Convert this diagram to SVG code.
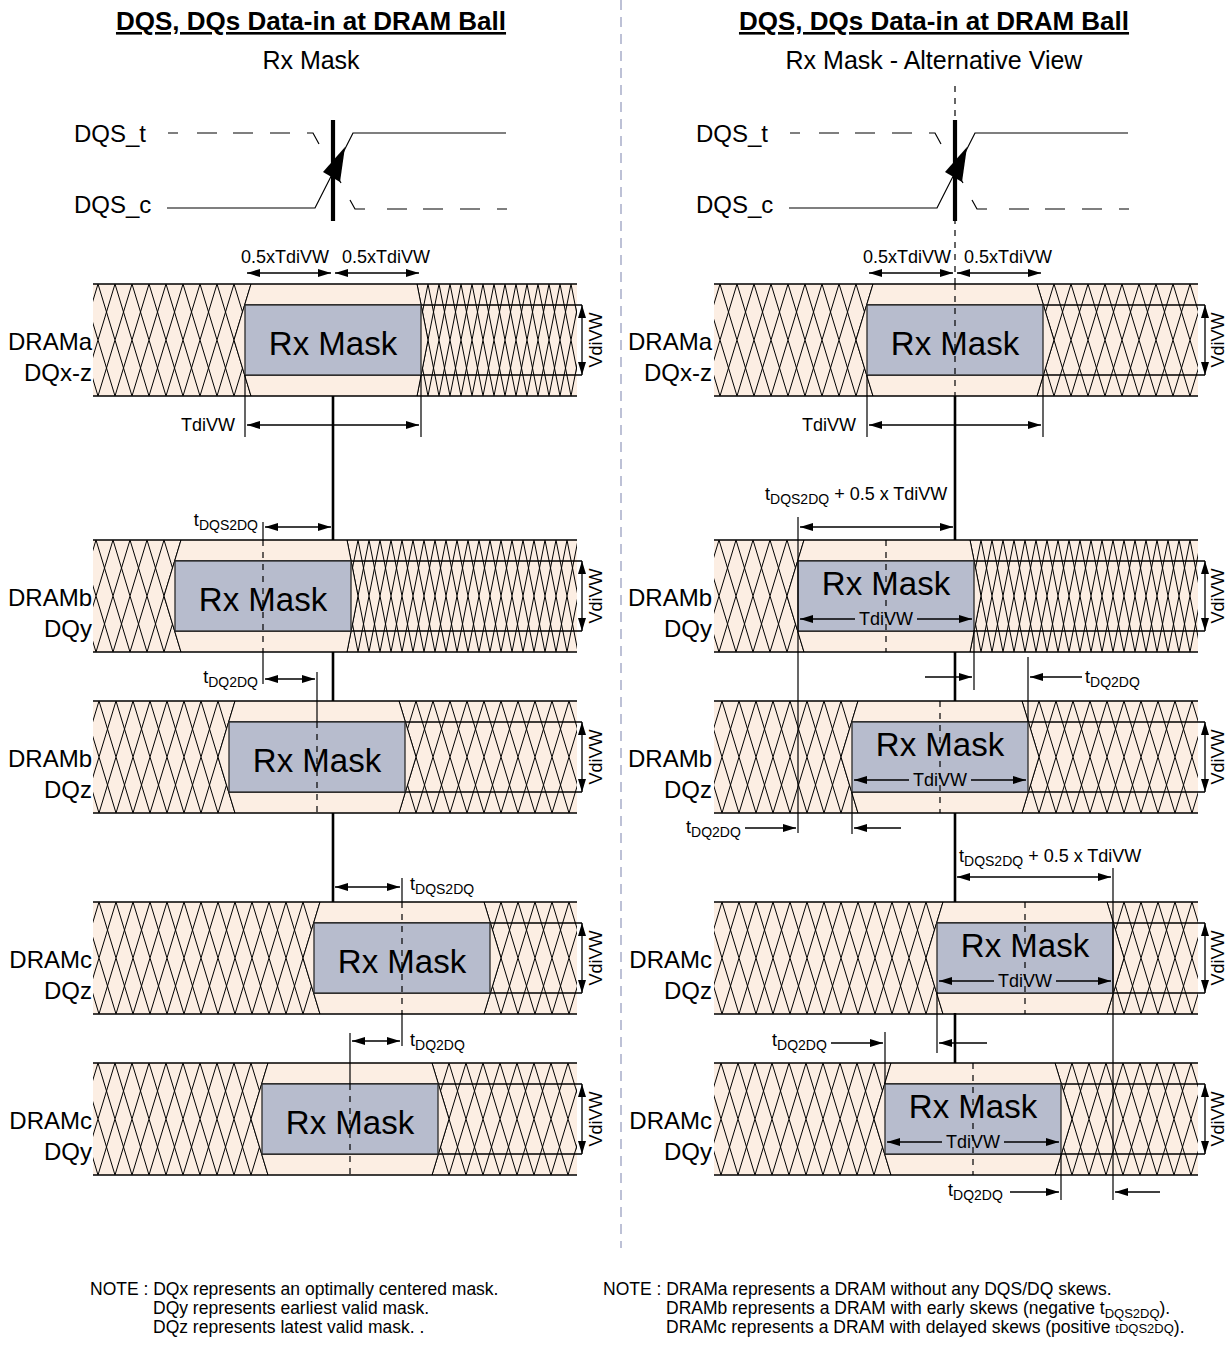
<svg xmlns="http://www.w3.org/2000/svg" width="1232" height="1345" viewBox="0 0 1232 1345">
<defs>
<style>
text{font-family:"Liberation Sans",Arial,Helvetica,sans-serif;fill:#000}
.title{font-size:26px;font-weight:bold;text-decoration:underline;text-anchor:middle}
.sub{font-size:25px;text-anchor:middle}
.lbl{font-size:24px}
.end{text-anchor:end}
.mid{text-anchor:middle}
.sm{font-size:18px}
.sb{font-size:14px}
.rx{font-size:33px;text-anchor:middle}
.note{font-size:17.5px}
.nsb{font-size:13px}
.band{fill:#FCEEE3}
.edge{stroke:#000;stroke-width:1.3;fill:none}
.mask{fill:#B7BCCD;stroke:#2a2a2a;stroke-width:1.3}
.thin{stroke:#000;stroke-width:1.2;fill:none}
.thick{stroke:#000;stroke-width:2.6;fill:none}
.bar{stroke:#000;stroke-width:4.2;fill:none}
.dsh{stroke:#000;stroke-width:1.2;stroke-dasharray:6 6;fill:none}
.hb{stroke:#000;stroke-width:1;fill:none}
.ar{stroke:#000;stroke-width:1.3;fill:none;marker-start:url(#ah);marker-end:url(#ah)}
.ae{stroke:#000;stroke-width:1.3;fill:none;marker-end:url(#ah)}
.hs{fill:url(#ps)}
.hd{fill:url(#pd)}
.div{stroke:#BDC1D6;stroke-width:2;stroke-dasharray:10 7;fill:none}
</style>
<marker id="ah" viewBox="0 0 13 8" refX="13" refY="4" markerWidth="13" markerHeight="8" markerUnits="userSpaceOnUse" orient="auto-start-reverse"><path d="M0,0 L13,4 L0,8 Z" fill="#000"/></marker>
<pattern id="ps" x="0" y="0" width="17" height="112" patternUnits="userSpaceOnUse"><path d="M0,112 L17,56 M0,56 L17,0 M0,0 L17,56 M0,56 L17,112" stroke="#000" stroke-width="1" fill="none"/></pattern>
<pattern id="pd" x="0" y="0" width="11" height="112" patternUnits="userSpaceOnUse"><path d="M0,112 L11,56 M0,56 L11,0 M0,0 L11,56 M0,56 L11,112" stroke="#000" stroke-width="1" fill="none"/></pattern>
</defs>
<rect width="1232" height="1345" fill="#fff"/>

<path class="div" d="M621,0V1248"/>

<g id="titles">
<text class="title" x="311" y="30">DQS, DQs Data-in at DRAM Ball</text>
<text class="sub" x="311" y="69">Rx Mask</text>
<text class="title" x="934" y="30">DQS, DQs Data-in at DRAM Ball</text>
<text class="sub" x="934" y="69">Rx Mask - Alternative View</text>
</g>

<g id="L-DQS">
<text class="lbl" x="74" y="142">DQS_t</text>
<text class="lbl" x="74" y="213">DQS_c</text>
<path class="thin" d="M168,133H178M197,133H217M233,133H253M270,133H290M307,133H313L319,144M337,176L341,183M350,200L355,209H365M387,209H407M423,209H443M460,209H480M497,209H507"/>
<path class="thin" d="M167,208H315L353,133H506"/>
<path class="bar" d="M333,120V221"/>
<polygon points="345,147 323,172 340,182" fill="#000"/>
</g>

<g id="R-DQS">
<text class="lbl" x="696" y="142">DQS_t</text>
<text class="lbl" x="696" y="213">DQS_c</text>
<path class="dsh" d="M955,86V284"/>
<path class="thin" d="M790,133H800M819,133H839M855,133H875M892,133H912M929,133H935L941,144M959,176L963,183M972,200L977,209H987M1009,209H1029M1045,209H1065M1082,209H1102M1119,209H1129"/>
<path class="thin" d="M789,208H937L975,133H1128"/>
<path class="bar" d="M955,120V221"/>
<polygon points="967,147 945,172 962,182" fill="#000"/>
</g>

<!-- LEFT PANEL BANDS -->
<g id="L-DRAMa-DQxz" transform="translate(0,284)">
<rect class="band" x="93" y="0" width="484" height="112"/>
<g transform="translate(251,0)"><path class="hs" d="M-158,0H0L-17,56L0,112H-158Z"/><path class="hb" d="M0,0L-17,56L0,112"/></g>
<g transform="translate(417,0)"><path class="hd" d="M0,0H160V112H0L11,56Z"/><path class="hb" d="M0,0L11,56L0,112"/></g>
<path class="edge" d="M93,0H577M93,112H577M245,21H582M245,91H582"/>
<rect class="mask" x="245" y="21" width="176" height="70"/>
<line class="ar" x1="582" y1="21" x2="582" y2="91"/>
<text class="sm mid" transform="translate(596,56) rotate(-90)" y="6">VdiVW</text>
<text class="rx" x="333" y="71">Rx Mask</text>
<text class="lbl end" x="92" y="66">DRAMa</text>
<text class="lbl end" x="92" y="97">DQx-z</text>
</g>

<g id="L-DRAMb-DQy" transform="translate(0,540)">
<rect class="band" x="93" y="0" width="484" height="112"/>
<g transform="translate(181,0)"><path class="hs" d="M-88,0H0L-17,56L0,112H-88Z"/><path class="hb" d="M0,0L-17,56L0,112"/></g>
<g transform="translate(347,0)"><path class="hd" d="M0,0H230V112H0L11,56Z"/><path class="hb" d="M0,0L11,56L0,112"/></g>
<path class="edge" d="M93,0H577M93,112H577M175,21H582M175,91H582"/>
<rect class="mask" x="175" y="21" width="176" height="70"/>
<path class="dsh" d="M263,0V112"/>
<line class="ar" x1="582" y1="21" x2="582" y2="91"/>
<text class="sm mid" transform="translate(596,56) rotate(-90)" y="6">VdiVW</text>
<text class="rx" x="263" y="71">Rx Mask</text>
<text class="lbl end" x="92" y="66">DRAMb</text>
<text class="lbl end" x="92" y="97">DQy</text>
</g>

<g id="L-DRAMb-DQz" transform="translate(0,701)">
<rect class="band" x="93" y="0" width="484" height="112"/>
<g transform="translate(235,0)"><path class="hs" d="M-142,0H0L-17,56L0,112H-142Z"/><path class="hb" d="M0,0L-17,56L0,112"/></g>
<g transform="translate(399,0)"><path class="hs" d="M0,0H178V112H0L17,56Z"/><path class="hb" d="M0,0L17,56L0,112"/></g>
<path class="edge" d="M93,0H577M93,112H577M229,21H582M229,91H582"/>
<rect class="mask" x="229" y="21" width="176" height="70"/>
<path class="dsh" d="M317,21V112"/>
<line class="ar" x1="582" y1="21" x2="582" y2="91"/>
<text class="sm mid" transform="translate(596,56) rotate(-90)" y="6">VdiVW</text>
<text class="rx" x="317" y="71">Rx Mask</text>
<text class="lbl end" x="92" y="66">DRAMb</text>
<text class="lbl end" x="92" y="97">DQz</text>
</g>

<g id="L-DRAMc-DQz" transform="translate(0,902)">
<rect class="band" x="93" y="0" width="484" height="112"/>
<g transform="translate(320,0)"><path class="hs" d="M-227,0H0L-17,56L0,112H-227Z"/><path class="hb" d="M0,0L-17,56L0,112"/></g>
<g transform="translate(484,0)"><path class="hs" d="M0,0H93V112H0L17,56Z"/><path class="hb" d="M0,0L17,56L0,112"/></g>
<path class="edge" d="M93,0H577M93,112H577M314,21H582M314,91H582"/>
<rect class="mask" x="314" y="21" width="176" height="70"/>
<path class="dsh" d="M402,0V112"/>
<line class="ar" x1="582" y1="21" x2="582" y2="91"/>
<text class="sm mid" transform="translate(596,56) rotate(-90)" y="6">VdiVW</text>
<text class="rx" x="402" y="71">Rx Mask</text>
<text class="lbl end" x="92" y="66">DRAMc</text>
<text class="lbl end" x="92" y="97">DQz</text>
</g>

<g id="L-DRAMc-DQy" transform="translate(0,1063)">
<rect class="band" x="93" y="0" width="484" height="112"/>
<g transform="translate(268,0)"><path class="hs" d="M-175,0H0L-17,56L0,112H-175Z"/><path class="hb" d="M0,0L-17,56L0,112"/></g>
<g transform="translate(432,0)"><path class="hs" d="M0,0H145V112H0L17,56Z"/><path class="hb" d="M0,0L17,56L0,112"/></g>
<path class="edge" d="M93,0H577M93,112H577M262,21H582M262,91H582"/>
<rect class="mask" x="262" y="21" width="176" height="70"/>
<path class="dsh" d="M350,21V112"/>
<line class="ar" x1="582" y1="21" x2="582" y2="91"/>
<text class="sm mid" transform="translate(596,56) rotate(-90)" y="6">VdiVW</text>
<text class="rx" x="350" y="71">Rx Mask</text>
<text class="lbl end" x="92" y="66">DRAMc</text>
<text class="lbl end" x="92" y="97">DQy</text>
</g>

<!-- RIGHT PANEL BANDS -->
<g id="R-DRAMa-DQxz" transform="translate(0,284)">
<rect class="band" x="714" y="0" width="484" height="112"/>
<g transform="translate(873,0)"><path class="hs" d="M-159,0H0L-17,56L0,112H-159Z"/><path class="hb" d="M0,0L-17,56L0,112"/></g>
<g transform="translate(1037,0)"><path class="hs" d="M0,0H161V112H0L17,56Z"/><path class="hb" d="M0,0L17,56L0,112"/></g>
<path class="edge" d="M714,0H1198M714,112H1198M867,21H1205M867,91H1205"/>
<rect class="mask" x="867" y="21" width="176" height="70"/>
<path class="dsh" d="M955,0V112"/>
<line class="ar" x1="1205" y1="21" x2="1205" y2="91"/>
<text class="sm mid" transform="translate(1218,56) rotate(-90)" y="6">VdiVW</text>
<text class="rx" x="955" y="71">Rx Mask</text>
<text class="lbl end" x="712" y="66">DRAMa</text>
<text class="lbl end" x="712" y="97">DQx-z</text>
</g>

<g id="R-DRAMb-DQy" transform="translate(0,540)">
<rect class="band" x="714" y="0" width="484" height="112"/>
<g transform="translate(804,0)"><path class="hs" d="M-90,0H0L-17,56L0,112H-90Z"/><path class="hb" d="M0,0L-17,56L0,112"/></g>
<g transform="translate(970,0)"><path class="hd" d="M0,0H228V112H0L11,56Z"/><path class="hb" d="M0,0L11,56L0,112"/></g>
<path class="edge" d="M714,0H1198M714,112H1198M798,21H1205M798,91H1205"/>
<rect class="mask" x="798" y="21" width="176" height="70"/>
<path class="dsh" d="M886,0V112"/>
<line class="ar" x1="1205" y1="21" x2="1205" y2="91"/>
<text class="sm mid" transform="translate(1218,56) rotate(-90)" y="6">VdiVW</text>
<text class="rx" x="886" y="55">Rx Mask</text>
<path class="ae" d="M855,79H800"/><path class="ae" d="M917,79H972"/>
<text class="sm mid" x="886" y="85">TdiVW</text>
<text class="lbl end" x="712" y="66">DRAMb</text>
<text class="lbl end" x="712" y="97">DQy</text>
</g>

<g id="R-DRAMb-DQz" transform="translate(0,701)">
<rect class="band" x="714" y="0" width="484" height="112"/>
<g transform="translate(858,0)"><path class="hs" d="M-144,0H0L-17,56L0,112H-144Z"/><path class="hb" d="M0,0L-17,56L0,112"/></g>
<g transform="translate(1022,0)"><path class="hs" d="M0,0H176V112H0L17,56Z"/><path class="hb" d="M0,0L17,56L0,112"/></g>
<path class="edge" d="M714,0H1198M714,112H1198M852,21H1205M852,91H1205"/>
<rect class="mask" x="852" y="21" width="176" height="70"/>
<path class="dsh" d="M940,0V112"/>
<line class="ar" x1="1205" y1="21" x2="1205" y2="91"/>
<text class="sm mid" transform="translate(1218,56) rotate(-90)" y="6">VdiVW</text>
<text class="rx" x="940" y="55">Rx Mask</text>
<path class="ae" d="M909,79H854"/><path class="ae" d="M971,79H1026"/>
<text class="sm mid" x="940" y="85">TdiVW</text>
<text class="lbl end" x="712" y="66">DRAMb</text>
<text class="lbl end" x="712" y="97">DQz</text>
</g>

<g id="R-DRAMc-DQz" transform="translate(0,902)">
<rect class="band" x="714" y="0" width="484" height="112"/>
<g transform="translate(943,0)"><path class="hs" d="M-229,0H0L-17,56L0,112H-229Z"/><path class="hb" d="M0,0L-17,56L0,112"/></g>
<g transform="translate(1107,0)"><path class="hs" d="M0,0H91V112H0L17,56Z"/><path class="hb" d="M0,0L17,56L0,112"/></g>
<path class="edge" d="M714,0H1198M714,112H1198M937,21H1205M937,91H1205"/>
<rect class="mask" x="937" y="21" width="176" height="70"/>
<path class="dsh" d="M1025,0V112"/>
<line class="ar" x1="1205" y1="21" x2="1205" y2="91"/>
<text class="sm mid" transform="translate(1218,56) rotate(-90)" y="6">VdiVW</text>
<text class="rx" x="1025" y="55">Rx Mask</text>
<path class="ae" d="M994,79H939"/><path class="ae" d="M1056,79H1111"/>
<text class="sm mid" x="1025" y="85">TdiVW</text>
<text class="lbl end" x="712" y="66">DRAMc</text>
<text class="lbl end" x="712" y="97">DQz</text>
</g>

<g id="R-DRAMc-DQy" transform="translate(0,1063)">
<rect class="band" x="714" y="0" width="484" height="112"/>
<g transform="translate(891,0)"><path class="hs" d="M-177,0H0L-17,56L0,112H-177Z"/><path class="hb" d="M0,0L-17,56L0,112"/></g>
<g transform="translate(1055,0)"><path class="hs" d="M0,0H143V112H0L17,56Z"/><path class="hb" d="M0,0L17,56L0,112"/></g>
<path class="edge" d="M714,0H1198M714,112H1198M885,21H1205M885,91H1205"/>
<rect class="mask" x="885" y="21" width="176" height="70"/>
<path class="dsh" d="M973,0V112"/>
<line class="ar" x1="1205" y1="21" x2="1205" y2="91"/>
<text class="sm mid" transform="translate(1218,56) rotate(-90)" y="6">VdiVW</text>
<text class="rx" x="973" y="55">Rx Mask</text>
<path class="ae" d="M942,79H887"/><path class="ae" d="M1004,79H1059"/>
<text class="sm mid" x="973" y="85">TdiVW</text>
<text class="lbl end" x="712" y="66">DRAMc</text>
<text class="lbl end" x="712" y="97">DQy</text>
</g>

<g id="connectors">
<path class="thick" d="M333,396V540M333,652V701M333,813V902"/>
<line class="ar" x1="247" y1="273" x2="331" y2="273"/>
<line class="ar" x1="335" y1="273" x2="419" y2="273"/>
<path class="thin" d="M245,375V437M421,375V437"/>
<line class="ar" x1="247" y1="425" x2="419" y2="425"/>
<path class="thin" d="M263,522V540M263,652V684"/>
<line class="ar" x1="265" y1="527" x2="331" y2="527"/>
<path class="thin" d="M317,672V722"/>
<line class="ar" x1="265" y1="679" x2="315" y2="679"/>
<path class="thin" d="M402,878V902M402,1013V1046"/>
<line class="ar" x1="335" y1="887" x2="400" y2="887"/>
<path class="thin" d="M350,1033V1084"/>
<line class="ar" x1="352" y1="1041" x2="400" y2="1041"/>
<path class="thick" d="M955,396V540M955,652V701M955,813V902M955,1013V1063"/>
<line class="ar" x1="869" y1="273" x2="953" y2="273"/>
<line class="ar" x1="957" y1="273" x2="1041" y2="273"/>
<path class="thin" d="M867,375V437M1043,375V437"/>
<line class="ar" x1="869" y1="425" x2="1041" y2="425"/>
<path class="thin" d="M798,517V833"/>
<line class="ar" x1="800" y1="527" x2="953" y2="527"/>
<path class="thin" d="M974,630V690M1028,657V722"/>
<path class="ae" d="M925,677H972"/>
<path class="ae" d="M1082,677H1030"/>
<path class="ae" d="M745,828H796"/>
<path class="thin" d="M852,792V834"/>
<path class="ae" d="M901,828H854"/>
<line class="ar" x1="957" y1="877" x2="1111" y2="877"/>
<path class="thin" d="M1113,868V1200"/>
<path class="ae" d="M831,1043H883"/>
<path class="thin" d="M885,1032V1084M937,992V1053"/>
<path class="ae" d="M987,1043H939"/>
<path class="thin" d="M1061,1153V1200"/>
<path class="ae" d="M1010,1192H1059"/>
<path class="ae" d="M1160,1192H1115"/>
</g>

<g id="labels">
<text class="sm mid" x="285" y="263">0.5xTdiVW</text>
<text class="sm mid" x="386" y="263">0.5xTdiVW</text>
<text class="sm end" x="235" y="431">TdiVW</text>
<text class="sm end" x="258" y="526">t<tspan class="sb" dy="4">DQS2DQ</tspan></text>
<text class="sm end" x="258" y="683">t<tspan class="sb" dy="4">DQ2DQ</tspan></text>
<text class="sm" x="410" y="890">t<tspan class="sb" dy="4">DQS2DQ</tspan></text>
<text class="sm" x="410" y="1046">t<tspan class="sb" dy="4">DQ2DQ</tspan></text>
<text class="sm mid" x="907" y="263">0.5xTdiVW</text>
<text class="sm mid" x="1008" y="263">0.5xTdiVW</text>
<text class="sm end" x="856" y="431">TdiVW</text>
<text class="sm" x="765" y="500">t<tspan class="sb" dy="4">DQS2DQ</tspan><tspan dy="-4"> + 0.5 x TdiVW</tspan></text>
<text class="sm" x="1085" y="683">t<tspan class="sb" dy="4">DQ2DQ</tspan></text>
<text class="sm" x="686" y="833">t<tspan class="sb" dy="4">DQ2DQ</tspan></text>
<text class="sm" x="959" y="862">t<tspan class="sb" dy="4">DQS2DQ</tspan><tspan dy="-4"> + 0.5 x TdiVW</tspan></text>
<text class="sm" x="772" y="1046">t<tspan class="sb" dy="4">DQ2DQ</tspan></text>
<text class="sm" x="948" y="1196">t<tspan class="sb" dy="4">DQ2DQ</tspan></text>
</g>

<g id="notes">
<text class="note" x="90" y="1295">NOTE : DQx represents an optimally centered mask.</text>
<text class="note" x="153" y="1314">DQy represents earliest valid mask.</text>
<text class="note" x="153" y="1333">DQz represents latest valid mask. .</text>
<text class="note" x="603" y="1295">NOTE : DRAMa represents a DRAM without any DQS/DQ skews.</text>
<text class="note" x="666" y="1314">DRAMb represents a DRAM with early skews (negative t<tspan class="nsb" dy="4">DQS2DQ</tspan><tspan dy="-4">).</tspan></text>
<text class="note" x="666" y="1333">DRAMc represents a DRAM with delayed skews (positive <tspan class="nsb">tDQS2DQ</tspan>).</text>
</g>
</svg>
